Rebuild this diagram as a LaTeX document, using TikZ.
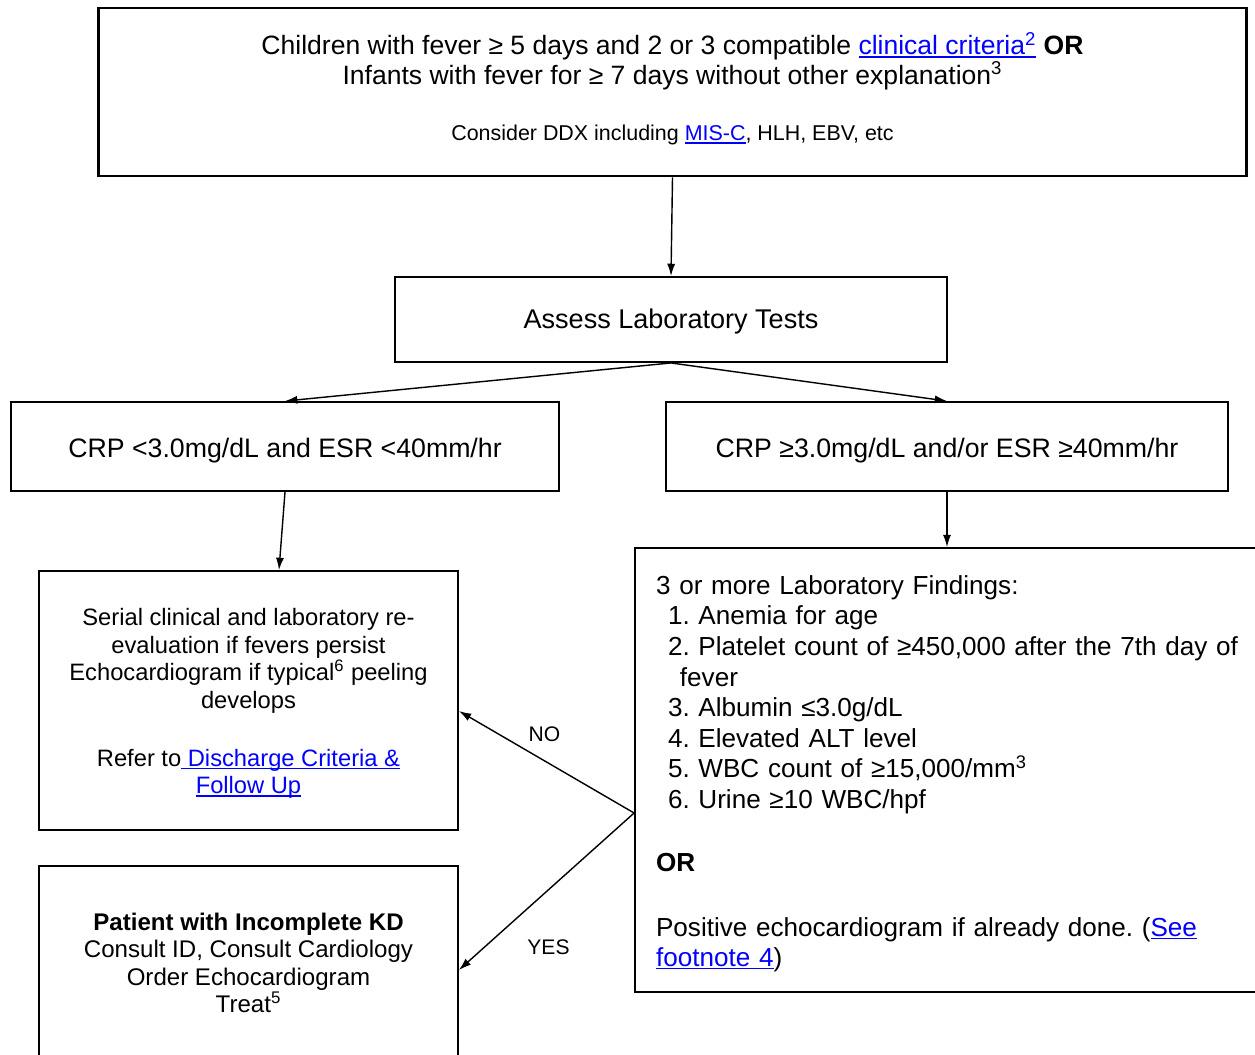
\documentclass[tikz,border=0pt]{standalone}
\usepackage{fontspec}
\setmainfont{Liberation Sans}
\usetikzlibrary{arrows.meta,positioning,calc}

\definecolor{linkblue}{RGB}{0,0,255}
\newcommand{\lnk}[1]{\leavevmode{\color{linkblue}\setbox0\hbox{#1}\rlap{\rule[-1.6pt]{\wd0}{0.75pt}}\box0}}
\newcommand{\itm}[1]{\hspace*{6.8pt}#1}
\frenchspacing

\begin{document}
\begin{tikzpicture}[x=0.02cm, y=-0.02cm,
    box/.style={draw, line width=1.1pt, align=center, inner sep=0pt},
    arr/.style={-{Latex[length=7pt,width=4.6pt]}, line width=0.8pt}]

    % Page frame
    \useasboundingbox (0,0) rectangle (1255,1055);

    % Entry criteria
    \node[box, line width=1.6pt, minimum width=22.98cm, minimum height=3.36cm] (entry) at (672.5,92)
        {{\fontsize{15.1}{17.6}\selectfont Children with fever ≥ 5 days and 2 or 3 compatible \lnk{clinical criteria\textsuperscript{2}} \textbf{OR}}\\
         {\fontsize{15.1}{17.6}\selectfont Infants with fever for ≥ 7 days without other explanation\textsuperscript{3}}\\[20.3pt]
         {\fontsize{12.2}{14}\selectfont Consider DDX including \lnk{MIS-C}, HLH, EBV, etc\rule[-6pt]{0pt}{0pt}}};

    % Labs
    \node[box, minimum width=11.04cm, minimum height=1.7cm, font=\fontsize{15.4}{18}\selectfont] (assess) at (671,319.5) {\rule{0pt}{13.5pt}Assess Laboratory Tests};
    \node[box, minimum width=10.96cm, minimum height=1.78cm, font=\fontsize{15.2}{18}\selectfont] (lowlab) at (285,446.5) {\rule{0pt}{15.5pt}CRP <3.0mg/dL and ESR <40mm/hr};
    \node[box, minimum width=11.24cm, minimum height=1.78cm, font=\fontsize{15.2}{18}\selectfont] (highlab) at (947,446.5) {\rule{0pt}{15.5pt}CRP ≥3.0mg/dL and/or ESR ≥40mm/hr};

    % Outcomes
    \node[box, minimum width=8.38cm, minimum height=5.18cm, font=\fontsize{13.5}{15.7}\selectfont] (serial) at (248.5,700.5)
        {\rule{0pt}{13.4pt}Serial clinical and laboratory re-\\ evaluation if fevers persist\\ Echocardiogram if typical\textsuperscript{6} peeling\\ develops\\[17.2pt]
         Refer to\lnk{\ Discharge Criteria \&}\\ \lnk{Follow Up}};
    \node[box, minimum width=8.38cm, minimum height=3.88cm, font=\fontsize{13.7}{15.7}\selectfont] (patient) at (248.5,963)
        {\textbf{Patient with Incomplete KD}\\ Consult ID, Consult Cardiology\\ Order Echocardiogram\\ Treat\textsuperscript{5}};
    \node[box, align=left, text width=12.2cm, inner xsep=0.42cm, minimum height=8.88cm, font=\fontsize{14.85}{17.4}\selectfont] (findings) at (961,770)
        {\rule{0pt}{15pt}3 or more Laboratory Findings:\\
         \itm{1. Anemia for age}\\
         \itm{2. Platelet count of ≥450,000 after the 7th day of}\\
         \hspace*{13.6pt}fever\\
         \itm{3. Albumin ≤3.0g/dL}\\
         \itm{4. Elevated ALT level}\\
         \itm{5. WBC count of ≥15,000/mm\textsuperscript{3}}\\
         \itm{6. Urine ≥10 WBC/hpf}\\[18.6pt]
         \textbf{OR}\\[19.3pt]
         Positive echocardiogram if already done. (\lnk{See}\\
         \lnk{footnote 4})};

    % Connectors
    \draw[arr] (entry.south) -- (assess.north);
    \draw[arr] (assess.south) -- (lowlab.north);
    \draw[arr] (assess.south) -- (highlab.north);
    \draw[arr] (lowlab.south) -- ([xshift=0.61cm]serial.north);
    \draw[arr] (highlab.south) -- (highlab.south |- findings.north);
    \coordinate (fork) at ($(findings.west)+(0,43)$);
    \draw[arr] (fork) -- ([yshift=-0.21cm]serial.east) node[midway, xshift=-0.04cm, yshift=0.56cm, font=\fontsize{12}{14}\selectfont] (no) {NO};
    \draw[arr] (fork) -- ([yshift=-0.14cm]patient.east) node[midway, xshift=0.04cm, yshift=-1.12cm, font=\fontsize{12}{14}\selectfont] (yes) {YES};

\end{tikzpicture}
\end{document}
